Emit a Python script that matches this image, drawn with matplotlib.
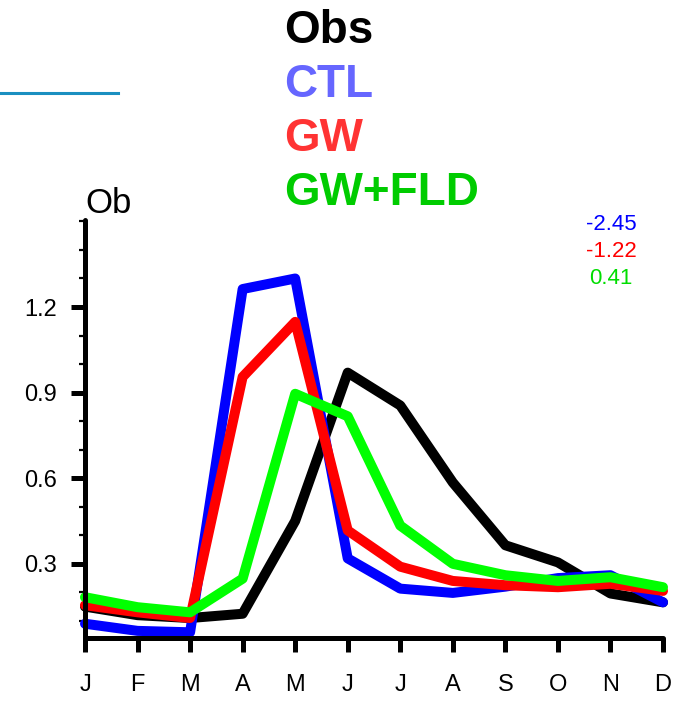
"""Monthly cycle of Obs vs CTL, GW and GW+FLD runs."""
import numpy as np
import matplotlib
matplotlib.use('Agg')
import matplotlib.pyplot as plt
from matplotlib.ticker import MultipleLocator
from matplotlib.lines import Line2D

plt.rcParams['font.family'] = ['Liberation Sans', 'DejaVu Sans']

# Data.
months = ['J', 'F', 'M', 'A', 'M', 'J', 'J', 'A', 'S', 'O', 'N', 'D']
obs = [0.15, 0.12, 0.11, 0.125, 0.45, 0.97, 0.855, 0.585, 0.365, 0.305, 0.196, 0.165]
ctl = [0.09, 0.065, 0.06, 1.263, 1.30, 0.319, 0.213, 0.198, 0.22, 0.25, 0.26, 0.165]
gw = [0.155, 0.13, 0.11, 0.955, 1.148, 0.417, 0.29, 0.24, 0.225, 0.218, 0.23, 0.205]
gwfld = [0.183, 0.148, 0.13, 0.248, 0.896, 0.817, 0.434, 0.30, 0.26, 0.24, 0.253, 0.218]

series_names = ['Obs', 'CTL', 'GW', 'GW+FLD']
line_colors = ['black', '#0000ff', '#ff0000', '#00ff00']
title_colors = ['black', '#6666ff', '#ff3333', '#00cc00']
scores = ['-2.45', '-1.22', '0.41']
score_colors = ['#0000ff', '#ff0000', '#00dd00']
yticks = [0.3, 0.6, 0.9, 1.2]

W, H = 683, 705
fig = plt.figure(figsize=(W / 100, H / 100), dpi=100)
ax = fig.add_axes([85 / W, 1 - 638 / H, (663 - 85) / W, (638 - 220) / H])

x = np.arange(len(months))
for vals, col in zip([obs, ctl, gw, gwfld], line_colors):
    ax.plot(x, vals, color=col, linewidth=7.2, solid_capstyle='round',
            solid_joinstyle='round', clip_on=False)

ax.set_xlim(0, 11)
ax.set_ylim(0.04, 1.505)
ax.set_xticks(x)
ax.set_xticklabels(months)
ax.yaxis.set_minor_locator(MultipleLocator(0.1))
ax.set_yticks(yticks)
ax.set_yticklabels([f'{v:.1f}' for v in yticks])

for side in ['top', 'right']:
    ax.spines[side].set_visible(False)
for side in ['left', 'bottom']:
    ax.spines[side].set_linewidth(3.6)
    ax.spines[side].set_capstyle('round')

ax.tick_params(axis='x', which='major', direction='out', length=10, width=3.6,
               pad=16, labelsize=17)
ax.tick_params(axis='y', which='major', direction='out', length=10, width=3.6,
               pad=10, labelsize=17)
ax.tick_params(axis='y', which='minor', direction='out', length=4, width=1.6)

# Y axis label above the axis.
fig.text(85 / W, 1 - 213 / H, 'Ob', fontsize=25, ha='left', va='baseline')

# Coloured series titles at the top.
for i, (name, col) in enumerate(zip(series_names, title_colors)):
    fig.text(284 / W, 1 - (43 + 54 * i) / H, name, color=col, fontsize=33,
             fontweight='bold', ha='left', va='baseline')

# Scores at the top right.
for i, (s, col) in enumerate(zip(scores, score_colors)):
    fig.text(611 / W, 1 - (230 + 27 * i) / H, s, color=col, fontsize=16,
             ha='center', va='baseline')

# Thin line at the top left.
fig.add_artist(Line2D([0, 118 / W], [1 - 93 / H, 1 - 93 / H],
                      color='#1a8fc0', linewidth=2.2))

fig.savefig('out.png', dpi=100)
